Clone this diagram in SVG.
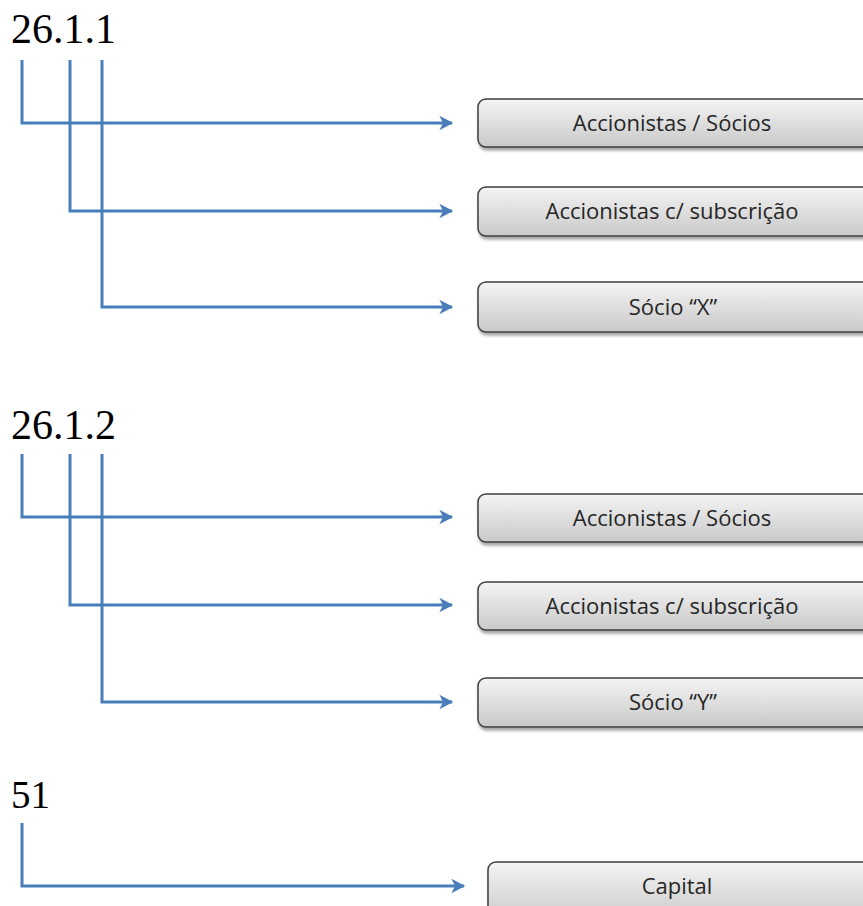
<svg xmlns="http://www.w3.org/2000/svg" width="863" height="906" viewBox="0 0 863 906">
  <style>
    .code { font-family: "Liberation Serif", "Times New Roman", serif; font-size: 42px; fill: #000; }
    .wire { fill: none; stroke: #4a7ebb; stroke-width: 3; stroke-linejoin: miter; }
    .arrow { fill: none; stroke: #4a7ebb; stroke-width: 3; marker-end: url(#head); }
    .box { fill: url(#boxFill); stroke: #3f3f3f; stroke-width: 1.5; filter: url(#drop); }
    .label { font-family: "Open Sans", "Noto Sans", sans-serif; font-size: 22px; fill: #262626; text-anchor: middle; }
  </style>
  <defs>
    <linearGradient id="boxFill" x1="0" y1="0" x2="0" y2="1">
      <stop offset="0" stop-color="#f4f4f4"/>
      <stop offset="1" stop-color="#c9c9c9"/>
    </linearGradient>
    <filter id="drop" x="-5%" y="-20%" width="110%" height="160%">
      <feGaussianBlur in="SourceAlpha" stdDeviation="1.5"/>
      <feOffset dx="1" dy="2.5" result="b"/>
      <feComponentTransfer><feFuncA type="linear" slope="0.35"/></feComponentTransfer>
      <feMerge><feMergeNode/><feMergeNode in="SourceGraphic"/></feMerge>
    </filter>
    <marker id="head" markerWidth="6" markerHeight="6" refX="4.2" refY="3" orient="auto" markerUnits="strokeWidth">
      <path d="M0,0.6 L4.6,3 L0,5.4 L1.2,3 Z" fill="#4a7ebb"/>
    </marker>
  </defs>

  <!-- account codes -->
  <text class="code" x="11" y="43">26.1.1</text>
  <text class="code" x="11" y="439">26.1.2</text>
  <text class="code" x="11" y="808" style="font-size:39px">51</text>

  <g id="connectors">
    <!-- 26.1.1 -->
    <path class="arrow" d="M22,60 V123 H452"/>
    <path class="arrow" d="M70,60 V211 H452"/>
    <path class="arrow" d="M102,60 V307 H452"/>
    <!-- 26.1.2 -->
    <path class="arrow" d="M22,454 V517 H452"/>
    <path class="arrow" d="M70,454 V605 H452"/>
    <path class="arrow" d="M102,454 V702 H452"/>
    <!-- 51 -->
    <path class="arrow" d="M22,823 V886 H464"/>
  </g>

  <g id="n-accionistas-socios-1">
    <rect class="box" x="478" y="99" width="420" height="48" rx="8"/>
    <text class="label" x="672" y="131">Accionistas / Sócios</text>
  </g>
  <g id="n-accionistas-subscricao-1">
    <rect class="box" x="478" y="187" width="420" height="49" rx="8"/>
    <text class="label" x="672" y="219">Accionistas c/ subscrição</text>
  </g>
  <g id="n-socio-x">
    <rect class="box" x="478" y="282" width="420" height="50" rx="8"/>
    <text class="label" x="673" y="315">Sócio “X”</text>
  </g>

  <g id="n-accionistas-socios-2">
    <rect class="box" x="478" y="494" width="420" height="48" rx="8"/>
    <text class="label" x="672" y="526">Accionistas / Sócios</text>
  </g>
  <g id="n-accionistas-subscricao-2">
    <rect class="box" x="478" y="582" width="420" height="48" rx="8"/>
    <text class="label" x="672" y="614">Accionistas c/ subscrição</text>
  </g>
  <g id="n-socio-y">
    <rect class="box" x="478" y="678" width="420" height="49" rx="8"/>
    <text class="label" x="673" y="710">Sócio “Y”</text>
  </g>

  <g id="n-capital">
    <rect class="box" x="488" y="862" width="420" height="60" rx="8"/>
    <text class="label" x="677" y="894">Capital</text>
  </g>
</svg>
